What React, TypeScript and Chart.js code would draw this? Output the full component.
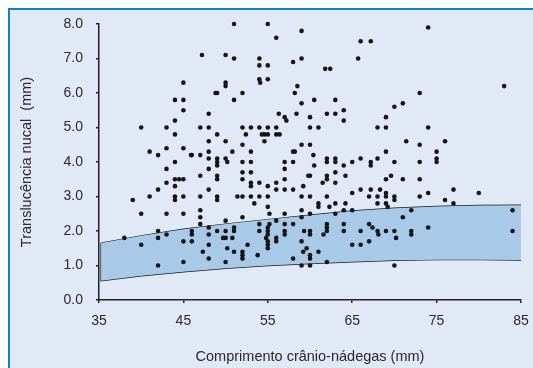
import { useEffect, useRef } from "react";
import { Chart, registerables } from "chart.js";

Chart.register(...registerables);

// Comprimento crânio-nádegas (mm) for each case
const crlMm = [
  38,
  39,
  40, 40, 40,
  41, 41,
  42, 42, 42, 42, 42,
  43, 43, 43, 43, 43, 43,
  44, 44, 44, 44, 44, 44, 44, 44, 44.5,
  45, 45, 45, 45, 45, 45, 45, 45, 45,
  45.9, 46, 46, 46, 46,
  47, 47, 47, 47, 47, 47, 47, 47.2, 47.3,
  48, 48, 48, 48, 48, 48, 48, 48, 48, 48, 48,
  48.8, 49, 49, 49, 49, 49, 49, 49, 49, 49, 49,
  50, 50, 50, 50, 50, 50, 50, 50, 50, 50.2, 50.2, 49.7,
  51, 51, 51, 51, 51, 50.8, 51, 50.8,
  52, 52, 52, 52, 52, 52, 52, 52, 52, 52, 52, 51.4, 52.4, 52.6,
  53, 53, 53, 53, 53, 53, 53, 53.4, 53.8,
  54, 54, 54, 54.1, 54, 54, 54, 54, 54, 54.3, 54.6, 54.6,
  55, 55, 55, 55, 55, 55, 55, 55, 55, 55, 55, 54.8, 55, 55, 55, 55.2, 55.2,
  56, 56, 56, 56, 56, 56, 56, 56, 56.4, 56.3,
  57, 57.2, 57, 57, 57, 57, 57, 57, 57, 57,
  58, 58, 58.2, 58, 58, 58, 58, 58.2, 58.5, 58.4,
  59, 59, 59, 59, 59, 59, 59, 59, 59, 59.2, 59.2, 59.3, 59.6,
  60, 60, 60, 60, 60, 60, 60, 60, 60, 60, 60, 59.8, 60.5, 60.5, 60.4,
  61, 61, 61, 61, 61.5, 61.6, 61.8, 62.4,
  62, 62, 62, 62, 62, 62, 62, 62, 62, 62, 62.3,
  63, 63, 63, 63, 63, 63, 63, 63,
  64, 64, 64, 64, 64, 64, 64.2, 64.2,
  65, 65, 65, 65, 65.7,
  66, 66, 66, 66, 66,
  67, 67, 67, 67.2, 67.2, 67.2, 67.2, 67.4,
  68, 68, 68, 68, 68, 68.1, 68.3,
  69, 69, 69, 69, 69, 69, 69, 69.2, 69, 69.6,
  70, 70, 70, 70, 70, 70, 70.2,
  71, 71, 71, 71.4,
  72, 72, 72,
  73, 73, 73, 73, 73,
  74, 74, 74, 74,
  75, 75, 75,
  76, 76,
  77, 77,
  80,
  83,
  84, 84,
];

// Translucência nucal (mm) for each case
const ntMm = [
  1.8,
  2.9,
  5.0, 2.5, 1.6,
  4.3, 3.0,
  4.2, 3.2, 2.0, 1.8, 1.0,
  5.0, 4.4, 3.8, 3.4, 2.5, 1.9,
  5.8, 5.2, 4.8, 4.0, 3.5, 3.3, 3.0, 2.9, 3.5,
  6.3, 5.8, 5.5, 4.4, 3.5, 3.0, 2.5, 1.7, 1.1,
  4.2, 4.2, 2.0, 1.9, 1.7,
  5.0, 4.2, 3.6, 3.0, 2.6, 2.4, 2.2, 7.1, 1.4,
  5.4, 5.0, 4.6, 4.3, 4.1, 3.8, 3.2, 2.1, 1.9, 1.6, 1.2,
  6.0, 6.0, 4.8, 4.1, 4.0, 3.9, 3.6, 3.5, 3.0, 2.9, 2.0,
  7.1, 6.3, 6.2, 4.6, 4.1, 2.3, 2.0, 1.8, 1.1, 4.0, 1.5, 1.8,
  8.0, 7.0, 5.8, 2.1, 2.0, 1.8, 1.4, 4.3,
  6.0, 5.0, 4.5, 4.0, 3.7, 3.5, 3.0, 2.4, 1.4, 1.3, 1.2, 3.0, 4.8, 1.6,
  5.0, 4.3, 4.0, 3.7, 3.4, 3.3, 3.0, 2.8, 1.3,
  7.0, 6.8, 6.4, 6.3, 5.0, 3.4, 3.0, 2.2, 2.0, 4.8, 4.8, 4.6,
  8.0, 6.8, 6.4, 5.0, 4.8, 3.3, 3.0, 2.7, 2.1, 2.0, 1.9, 1.8, 1.7, 1.6, 1.5, 2.5, 2.2,
  7.6, 5.0, 4.8, 3.4, 3.2, 2.3, 1.8, 1.7, 4.8, 5.4,
  5.3, 5.2, 4.0, 3.8, 3.5, 3.2, 2.5, 2.2, 2.0, 1.9,
  6.9, 4.3, 4.3, 4.0, 3.2, 2.2, 1.2, 6.0, 6.2, 5.4,
  7.8, 7.0, 5.7, 4.5, 3.0, 2.6, 2.4, 1.7, 1.0, 3.3, 1.4, 2.0, 1.5,
  5.3, 5.0, 4.5, 3.6, 3.0, 2.5, 2.0, 1.9, 1.3, 1.2, 1.0, 3.6, 5.8, 3.9, 4.2,
  5.0, 2.8, 2.7, 1.4, 3.4, 1.9, 6.7, 6.7,
  5.4, 4.1, 4.0, 3.6, 3.5, 3.0, 2.2, 2.1, 2.0, 1.1, 2.7,
  5.8, 5.4, 4.1, 4.0, 3.7, 3.4, 2.8, 2.5,
  5.5, 5.2, 3.9, 2.6, 2.2, 2.0, 3.6, 2.8,
  4.0, 3.1, 2.6, 1.6, 7.0,
  7.5, 4.1, 3.2, 2.0, 1.6,
  3.0, 2.2, 1.7, 7.5, 4.0, 3.9, 3.2, 2.1,
  5.0, 4.1, 3.0, 2.8, 2.0, 1.9, 3.2,
  5.3, 5.0, 4.3, 3.5, 3.1, 3.0, 2.8, 2.7, 2.0, 3.6,
  5.6, 4.0, 3.0, 2.9, 2.0, 1.0, 1.8,
  5.7, 3.5, 2.4, 4.6,
  2.6, 2.0, 1.9,
  6.0, 4.5, 4.0, 3.5, 3.0,
  7.9, 5.0, 3.1, 2.1,
  4.3, 4.1, 4.0,
  4.6, 2.9,
  3.2, 2.8,
  3.1,
  6.2,
  2.6, 2.0,
];

// Reference band (normal range)
const bandX = [35.25, 40, 45, 50, 55, 60, 65, 70, 75, 80, 85];
const bandUpper = [1.65, 1.86, 2.05, 2.2, 2.33, 2.46, 2.58, 2.66, 2.71, 2.74, 2.75];
const bandLower = [0.56, 0.7, 0.82, 0.92, 1.0, 1.06, 1.11, 1.15, 1.17, 1.17, 1.16];

const xTitle = "Comprimento crânio-nádegas (mm)";
const yTitle = "Translucência nucal  (mm)";

const FONT = "'Liberation Sans', Arial, sans-serif";
const TEXT = "#2a2a2a";
const AXIS = "#222222";

export default function App() {
  const ref = useRef<HTMLCanvasElement>(null);

  useEffect(() => {
    const points = crlMm.map((x, i) => ({ x, y: ntMm[i] }));
    const upper = bandX.map((x, i) => ({ x, y: bandUpper[i] }));
    const lower = bandX.map((x, i) => ({ x, y: bandLower[i] }));
    const outline = [...upper, ...lower.slice().reverse(), upper[0]];

    const chart = new Chart(ref.current!, {
      type: "line",
      data: {
        datasets: [
          {
            data: points,
            showLine: false,
            clip: false,
            pointRadius: 2.3,
            pointBackgroundColor: "#151515",
            pointBorderWidth: 0,
            borderColor: "#151515",
          },
          {
            data: upper,
            fill: "+1",
            backgroundColor: "#a8c9e8",
            borderColor: "transparent",
            pointRadius: 0,
          },
          {
            data: lower,
            fill: false,
            borderColor: "transparent",
            pointRadius: 0,
          },
          {
            data: outline,
            fill: false,
            borderColor: "#1a1a1a",
            borderWidth: 1.4,
            pointRadius: 0,
          },
        ],
      },
      options: {
        animation: false,
        responsive: false,
        layout: { padding: { top: 14, right: 12, left: 0, bottom: 0 }, autoPadding: false },
        plugins: {
          legend: { display: false },
          tooltip: { enabled: false },
        },
        scales: {
          x: {
            type: "linear",
            min: 35,
            max: 85,
            ticks: {
              stepSize: 10,
              color: TEXT,
              font: { family: FONT, size: 14 },
              padding: 10,
            },
            grid: {
              drawOnChartArea: false,
              drawTicks: true,
              tickLength: 3,
              color: AXIS,
              lineWidth: 1.5,
            },
            border: { color: AXIS, width: 1.5 },
            title: {
              display: true,
              text: xTitle,
              color: TEXT,
              font: { family: FONT, size: 14.5 },
              padding: { top: 0, bottom: 2.4 },
            },
            afterFit: (s: any) => {
              s.height = 68;
              s.paddingLeft = 0;
              s.paddingRight = 0;
            },
          },
          y: {
            min: 0,
            max: 8,
            ticks: {
              stepSize: 1,
              color: TEXT,
              font: { family: FONT, size: 14 },
              padding: 13,
              callback: (v: any) => Number(v).toFixed(1),
            },
            grid: {
              drawOnChartArea: false,
              drawTicks: true,
              tickLength: 3,
              color: AXIS,
              lineWidth: 1.5,
            },
            border: { color: AXIS, width: 1.5 },
            title: {
              display: true,
              text: yTitle,
              color: TEXT,
              font: { family: FONT, size: 14.5 },
              padding: { top: 8, bottom: 0 },
            },
            afterFit: (s: any) => {
              s.width = 89;
              s.paddingTop = 0;
              s.paddingBottom = 0;
            },
          },
        },
      },
    });
    return () => chart.destroy();
  }, []);

  return (
    <div
      style={{
        position: "fixed",
        left: 8,
        top: 8,
        width: 540,
        height: 380,
        background: "#e0e9f5",
        borderTop: "2px solid #0a84c8",
        borderLeft: "2px solid #0a84c8",
      }}
    >
      <canvas
        ref={ref}
        width={523}
        height={358}
        style={{ display: "block", width: 523, height: 358 }}
      />
    </div>
  );
}
